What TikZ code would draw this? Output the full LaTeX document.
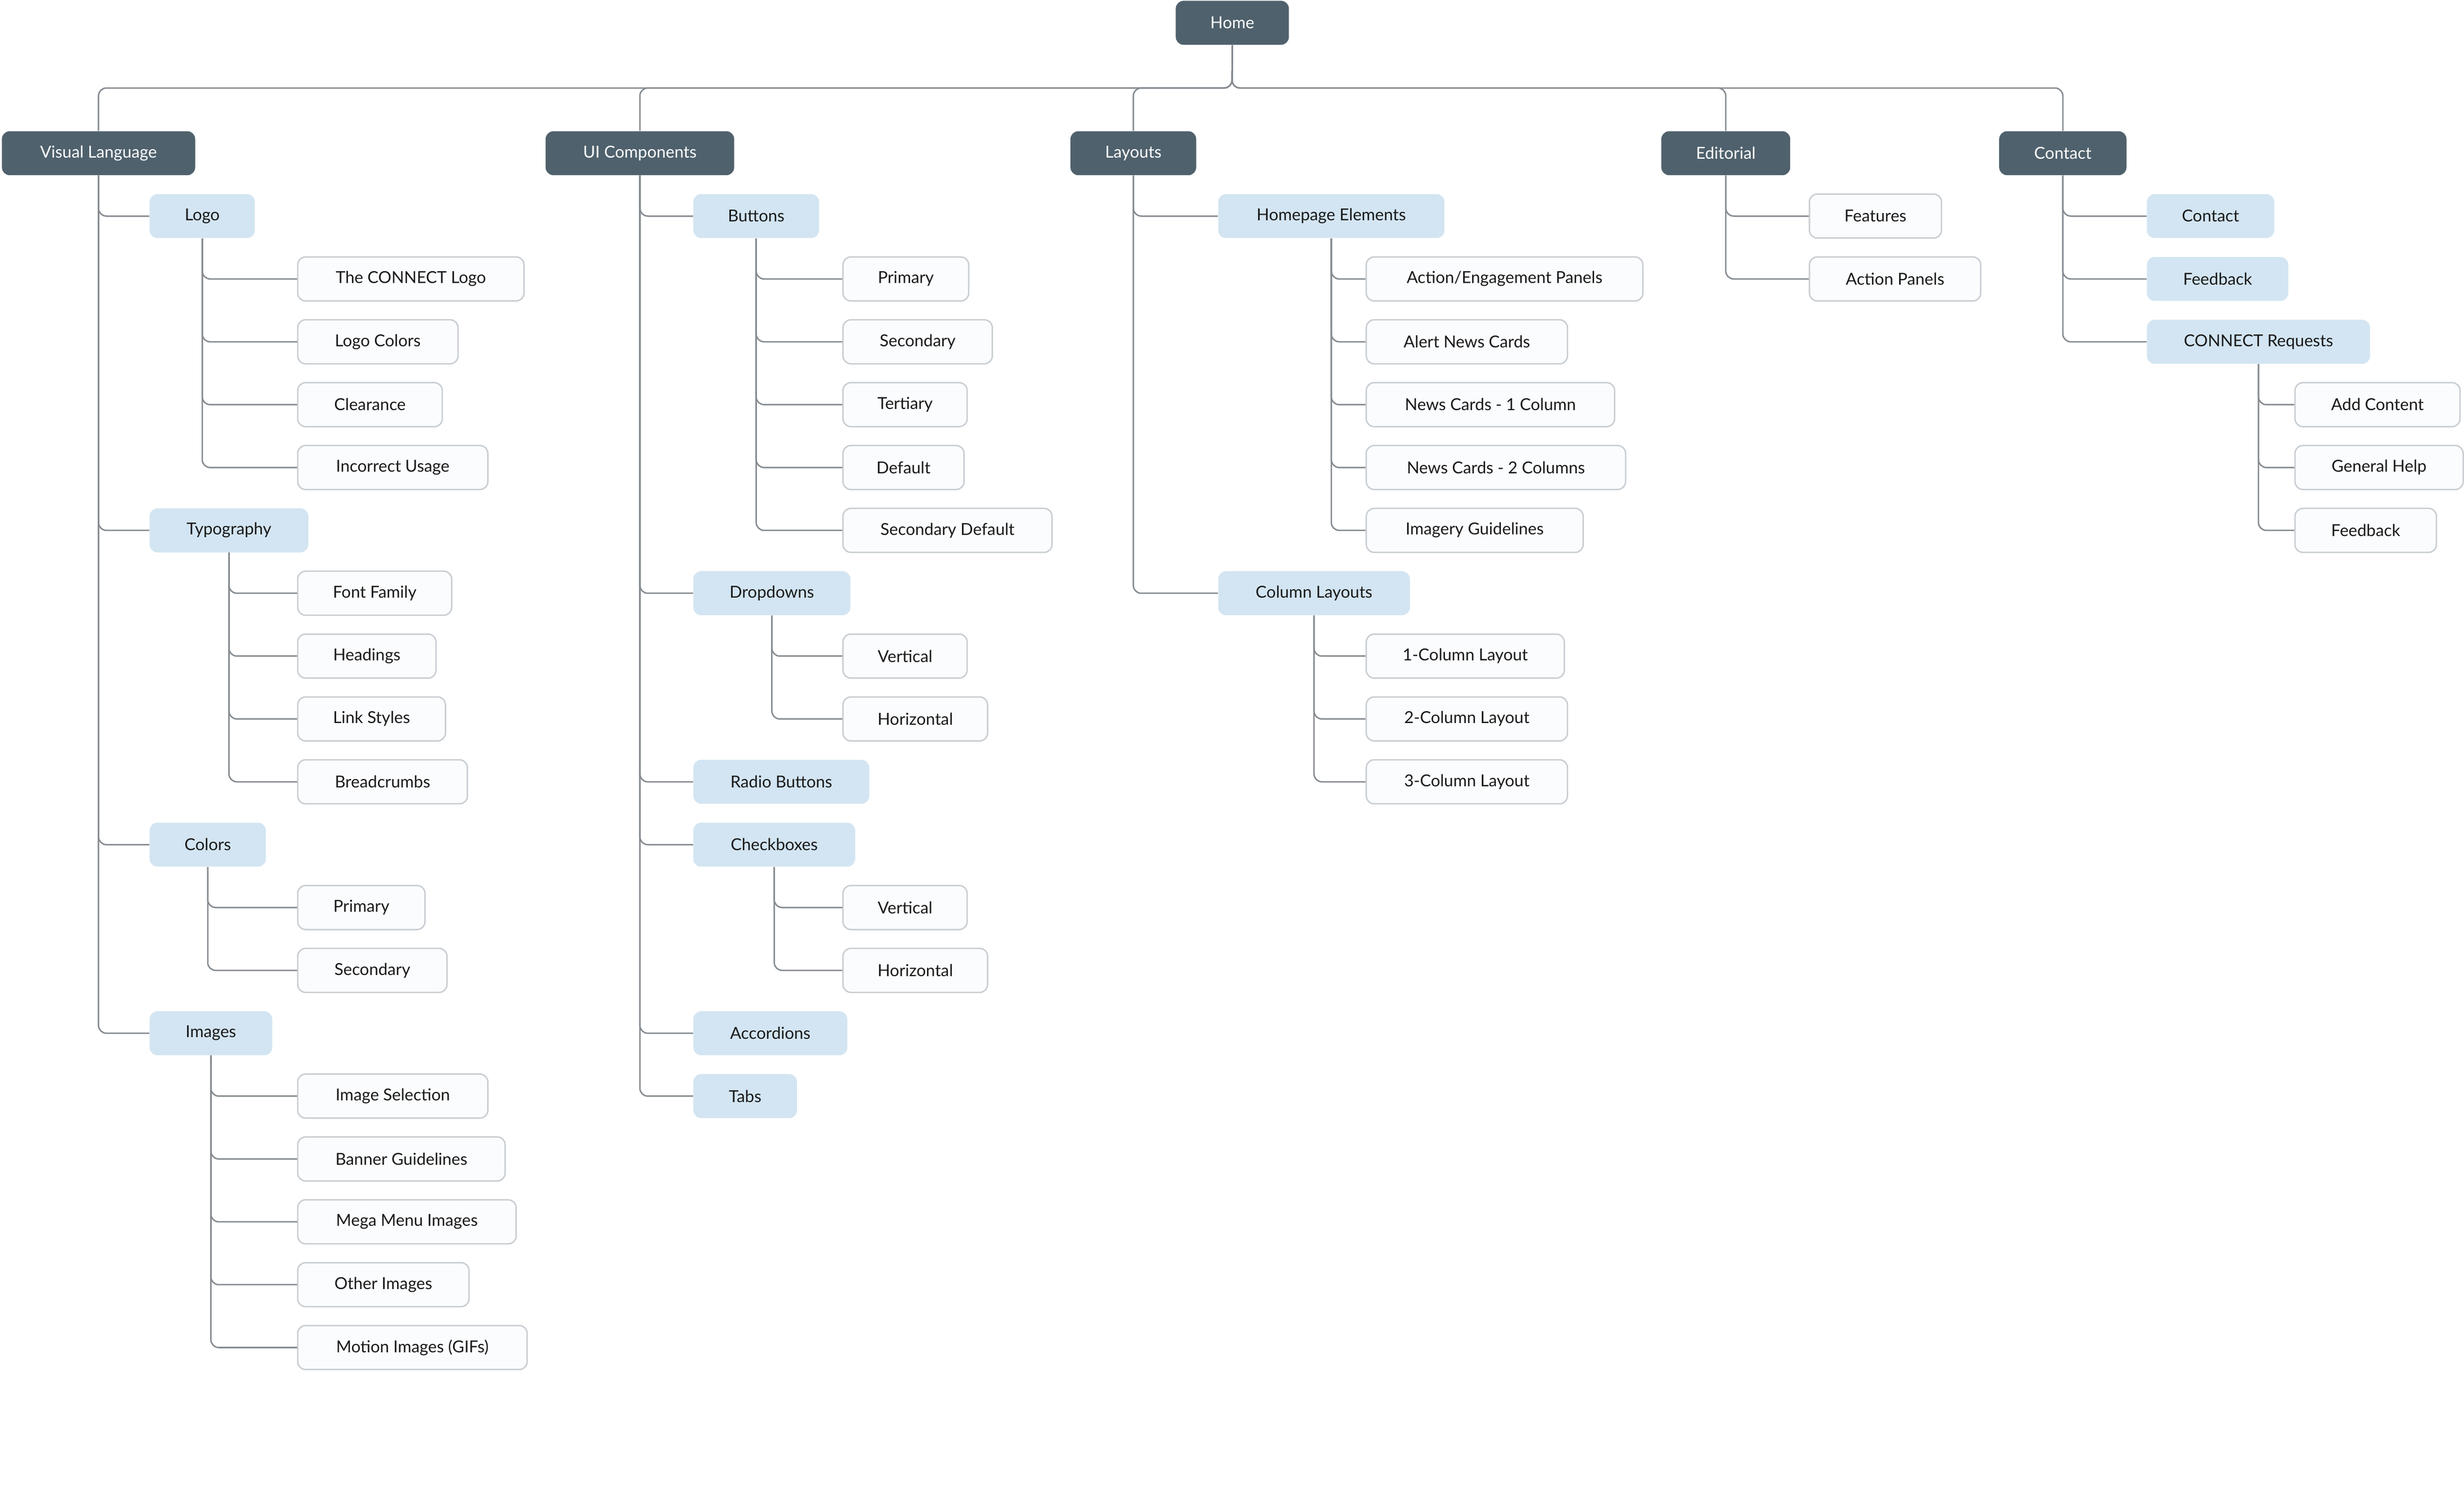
\documentclass[tikz,border=0pt]{standalone}
\usepackage{fontspec}
\setmainfont{Lato}
\definecolor{dark}{HTML}{4F616C}
\definecolor{lblue}{HTML}{D3E5F2}
\definecolor{wfill}{HTML}{FBFCFE}
\definecolor{wline}{HTML}{C9CED3}
\definecolor{conn}{HTML}{858B91}
\tikzset{
 base/.style={anchor=west,rounded corners=5pt,minimum height=28pt,inner sep=0pt,font=\fontsize{10.5}{12}\selectfont},
 dk/.style={base,fill=dark,text=white},
 lb/.style={base,fill=lblue,text=black!90},
 wb/.style={base,fill=wfill,draw=wline,line width=0.9pt,text=black!90},
 cn/.style={draw=conn,line width=0.9pt,rounded corners=5pt},
}
\newcommand{\bx}[6]{\node[#1,minimum width=#4pt-#3pt] (#2) at (#3,#5) {#6};}
\begin{document}
\begin{tikzpicture}[x=1pt,y=-1pt]
\useasboundingbox[fill=white] (0,0) rectangle (1568,950);
\bx{dk}{home}{748}{820}{14.5}{Home}
\bx{dk}{vl}{1}{124}{97.5}{Visual Language}
\bx{dk}{ui}{347}{467}{97.5}{UI Components}
\bx{dk}{la}{681}{761}{97.5}{Layouts}
\bx{dk}{ed}{1057}{1139}{97.5}{Editorial}
\bx{dk}{co}{1272}{1353}{97.5}{Contact}
\coordinate (bus) at (784,56);
\foreach \n in {vl,ui,la,ed,co}{\draw[cn] (home.south) -- (bus) -| (\n.north);}
% Visual Language
\bx{lb}{logo}{95}{162}{137.5}{Logo}
\bx{lb}{typo}{95}{196}{337.5}{Typography}
\bx{lb}{colors}{95}{169}{537.5}{Colors}
\bx{lb}{images}{95}{173}{657.5}{Images}
\foreach \n in {logo,typo,colors,images}{\draw[cn] (vl.south) |- (\n.west);}
\bx{wb}{a1}{189}{333}{177.5}{The CONNECT Logo}
\bx{wb}{a2}{189}{291}{217.5}{Logo Colors}
\bx{wb}{a3}{189}{281}{257.5}{Clearance}
\bx{wb}{a4}{189}{310}{297.5}{Incorrect Usage}
\foreach \n in {a1,a2,a3,a4}{\draw[cn] (logo.south) |- (\n.west);}
\bx{wb}{b1}{189}{287}{377.5}{Font Family}
\bx{wb}{b2}{189}{277}{417.5}{Headings}
\bx{wb}{b3}{189}{283}{457.5}{Link Styles}
\bx{wb}{b4}{189}{297}{497.5}{Breadcrumbs}
\foreach \n in {b1,b2,b3,b4}{\draw[cn] (typo.south) |- (\n.west);}
\bx{wb}{c1}{189}{270}{577.5}{Primary}
\bx{wb}{c2}{189}{284}{617.5}{Secondary}
\foreach \n in {c1,c2}{\draw[cn] (colors.south) |- (\n.west);}
\bx{wb}{d1}{189}{310}{697.5}{Image Selection}
\bx{wb}{d2}{189}{321}{737.5}{Banner Guidelines}
\bx{wb}{d3}{189}{328}{777.5}{Mega Menu Images}
\bx{wb}{d4}{189}{298}{817.5}{Other Images}
\bx{wb}{d5}{189}{335}{857.5}{Motion Images (GIFs)}
\foreach \n in {d1,d2,d3,d4,d5}{\draw[cn] (images.south) |- (\n.west);}
% UI Components
\bx{lb}{btn}{441}{521}{137.5}{Buttons}
\bx{lb}{dd}{441}{541}{377.5}{Dropdowns}
\bx{lb}{rb}{441}{553}{497.5}{Radio Buttons}
\bx{lb}{cb}{441}{544}{537.5}{Checkboxes}
\bx{lb}{acc}{441}{539}{657.5}{Accordions}
\bx{lb}{tabs}{441}{507}{697.5}{Tabs}
\foreach \n in {btn,dd,rb,cb,acc,tabs}{\draw[cn] (ui.south) |- (\n.west);}
\bx{wb}{e1}{536}{616}{177.5}{Primary}
\bx{wb}{e2}{536}{631}{217.5}{Secondary}
\bx{wb}{e3}{536}{615}{257.5}{Tertiary}
\bx{wb}{e4}{536}{613}{297.5}{Default}
\bx{wb}{e5}{536}{669}{337.5}{Secondary Default}
\foreach \n in {e1,e2,e3,e4,e5}{\draw[cn] (btn.south) |- (\n.west);}
\bx{wb}{f1}{536}{615}{417.5}{Vertical}
\bx{wb}{f2}{536}{628}{457.5}{Horizontal}
\foreach \n in {f1,f2}{\draw[cn] (dd.south) |- (\n.west);}
\bx{wb}{g1}{536}{615}{577.5}{Vertical}
\bx{wb}{g2}{536}{628}{617.5}{Horizontal}
\foreach \n in {g1,g2}{\draw[cn] (cb.south) |- (\n.west);}
% Layouts
\bx{lb}{hp}{775}{919}{137.5}{Homepage Elements}
\bx{lb}{cl}{775}{897}{377.5}{Column Layouts}
\foreach \n in {hp,cl}{\draw[cn] (la.south) |- (\n.west);}
\bx{wb}{h1}{869}{1045}{177.5}{Action/Engagement Panels}
\bx{wb}{h2}{869}{997}{217.5}{Alert News Cards}
\bx{wb}{h3}{869}{1027}{257.5}{News Cards - 1 Column}
\bx{wb}{h4}{869}{1034}{297.5}{News Cards - 2 Columns}
\bx{wb}{h5}{869}{1007}{337.5}{Imagery Guidelines}
\foreach \n in {h1,h2,h3,h4,h5}{\draw[cn] (hp.south) |- (\n.west);}
\bx{wb}{i1}{869}{995}{417.5}{1-Column Layout}
\bx{wb}{i2}{869}{997}{457.5}{2-Column Layout}
\bx{wb}{i3}{869}{997}{497.5}{3-Column Layout}
\foreach \n in {i1,i2,i3}{\draw[cn] (cl.south) |- (\n.west);}
% Editorial
\bx{wb}{j1}{1151}{1235}{137.5}{Features}
\bx{wb}{j2}{1151}{1260}{177.5}{Action Panels}
\foreach \n in {j1,j2}{\draw[cn] (ed.south) |- (\n.west);}
% Contact
\bx{lb}{k1}{1366}{1447}{137.5}{Contact}
\bx{lb}{k2}{1366}{1456}{177.5}{Feedback}
\bx{lb}{k3}{1366}{1508}{217.5}{CONNECT Requests}
\foreach \n in {k1,k2,k3}{\draw[cn] (co.south) |- (\n.west);}
\bx{wb}{l1}{1460}{1565}{257.5}{Add Content}
\bx{wb}{l2}{1460}{1567}{297.5}{General Help}
\bx{wb}{l3}{1460}{1550}{337.5}{Feedback}
\foreach \n in {l1,l2,l3}{\draw[cn] (k3.south) |- (\n.west);}
\end{tikzpicture}
\end{document}
